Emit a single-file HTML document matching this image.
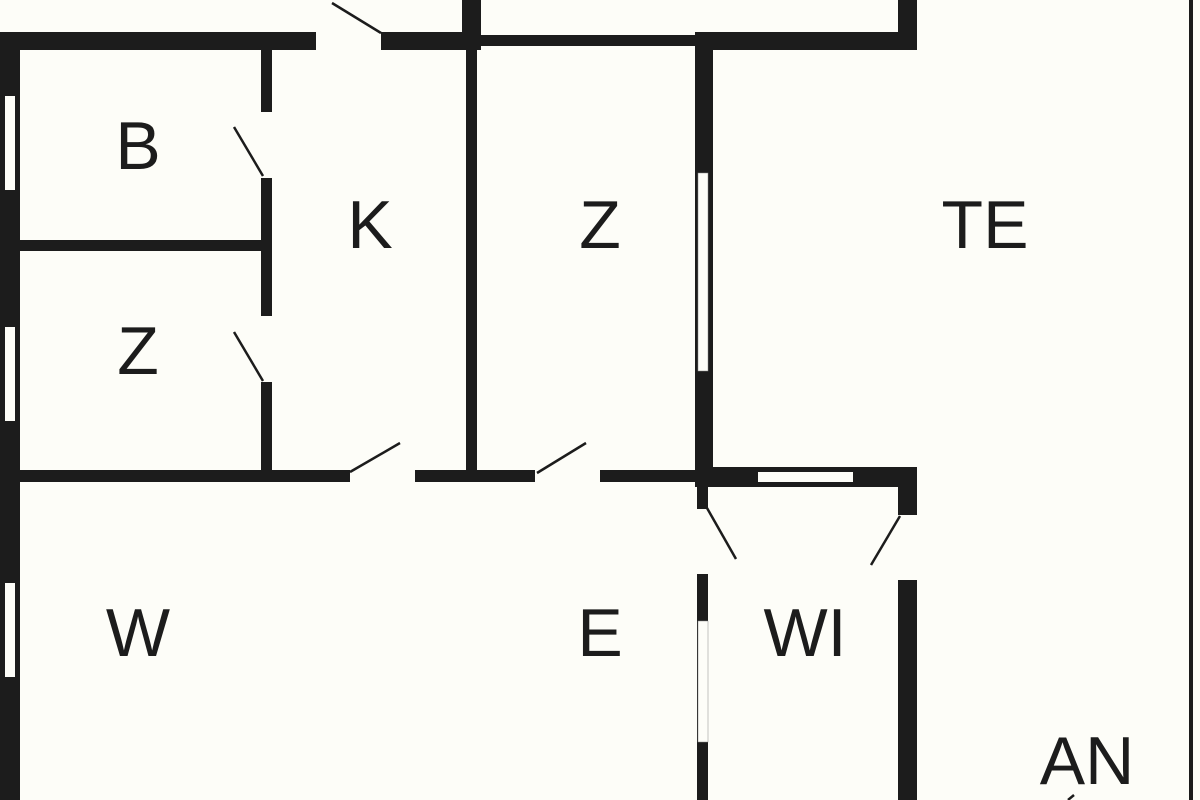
<!DOCTYPE html>
<html><head><meta charset="utf-8"><style>
html,body{margin:0;padding:0;background:#fdfdf8;width:1200px;height:800px;overflow:hidden;}
svg{display:block}
text{font-family:"Liberation Sans",sans-serif;font-size:68px;fill:#1c1c1c;text-anchor:middle}
</style></head><body>
<svg width="1200" height="800" viewBox="0 0 1200 800" overflow="hidden">
<rect width="1200" height="800" fill="#fdfdf8"/>
<g fill="#1c1c1c">
<rect x="0" y="32" width="20" height="768"/>
<rect x="0" y="32" width="316" height="18"/>
<rect x="381" y="32" width="99" height="18"/>
<rect x="480" y="35" width="215" height="11"/>
<rect x="695" y="32" width="222" height="18"/>
<rect x="462" y="0" width="19" height="50"/>
<rect x="466" y="45" width="11" height="430"/>
<rect x="898" y="0" width="19" height="50"/>
<rect x="261" y="50" width="11" height="62"/>
<rect x="261" y="178" width="11" height="138"/>
<rect x="261" y="382" width="11" height="92"/>
<rect x="20" y="240" width="243" height="11"/>
<rect x="20" y="470" width="330" height="12"/>
<rect x="415" y="470" width="120" height="12"/>
<rect x="600" y="470" width="100" height="12"/>
<rect x="695" y="32" width="18" height="455"/>
<rect x="697" y="467" width="220" height="20"/>
<rect x="697" y="480" width="11" height="29"/>
<rect x="697" y="574" width="11" height="226"/>
<rect x="898" y="467" width="19" height="48"/>
<rect x="898" y="580" width="19" height="220"/>
<rect x="1189" y="0" width="4" height="800"/>
</g>
<g fill="#fdfdf8">
<rect x="5" y="96" width="10" height="94"/>
<rect x="5" y="327" width="10" height="94"/>
<rect x="5" y="583" width="10" height="94"/>
<rect x="698" y="173" width="10" height="198" stroke="#888" stroke-width="0.5"/>
<rect x="758" y="472" width="95" height="10"/>
<rect x="698" y="621" width="10" height="121" stroke="#888" stroke-width="0.5"/>
</g>
<g stroke="#1c1c1c" stroke-width="2.5" fill="none">
<line x1="332" y1="3" x2="381" y2="33"/>
<line x1="234" y1="127" x2="263" y2="176"/>
<line x1="234" y1="332" x2="263" y2="381"/>
<line x1="350" y1="472" x2="400" y2="443"/>
<line x1="537" y1="473" x2="586" y2="443"/>
<line x1="707" y1="508" x2="736" y2="559"/>
<line x1="900" y1="516" x2="871" y2="565"/>
<line x1="1068" y1="800" x2="1074" y2="795"/>
</g>
<text x="138" y="169">B</text>
<text x="370" y="248">K</text>
<text x="600" y="248">Z</text>
<text x="985" y="248">TE</text>
<text x="138" y="374">Z</text>
<text x="138" y="656">W</text>
<text x="600" y="656">E</text>
<text x="805" y="656">WI</text>
<text x="1087" y="784">AN</text>
</svg>
</body></html>
